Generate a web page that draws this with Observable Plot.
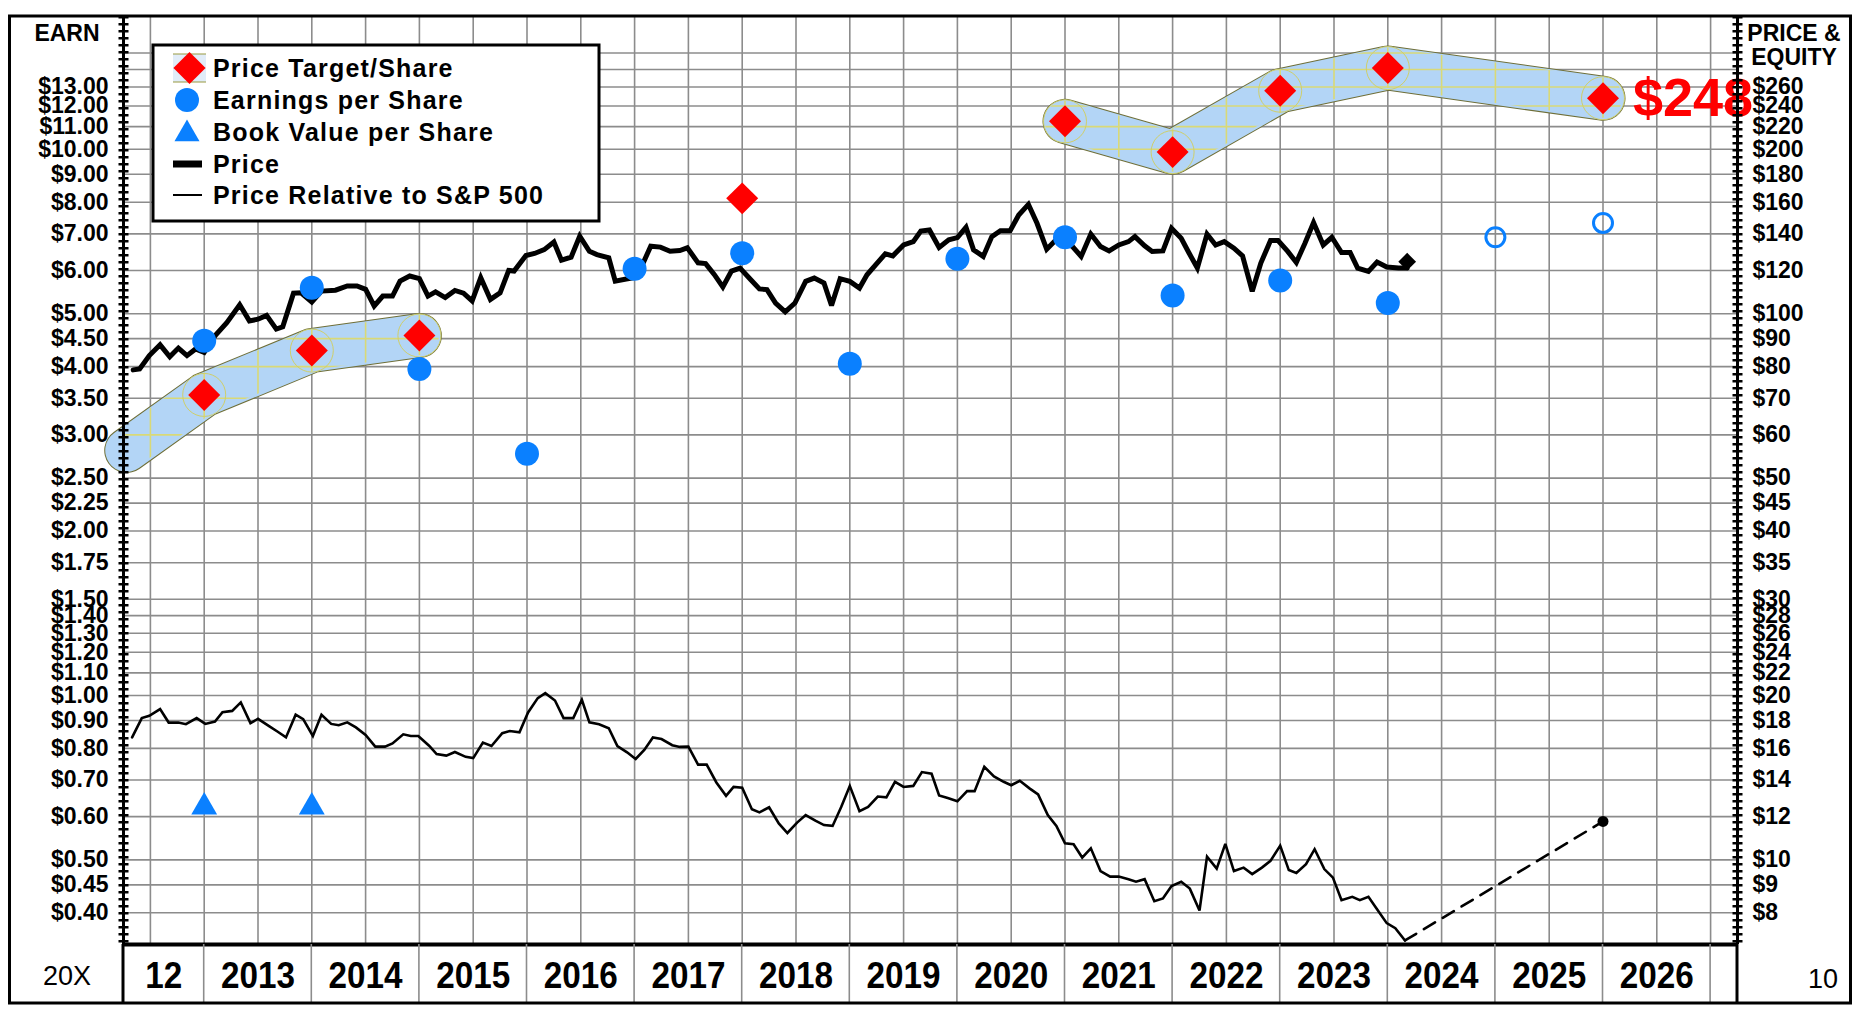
<!DOCTYPE html>
<html>
<head>
<meta charset="utf-8">
<script src="https://cdn.jsdelivr.net/npm/d3@7"></script>
<script src="https://cdn.jsdelivr.net/npm/@observablehq/plot@0.6"></script>
<style>
html, body { margin: 0; padding: 0; background: #fff; }
#chart { width: 1856px; height: 1012px; }
</style>
</head>
<body>
<div id="chart"></div>
<script>
// ---------------- DATA ----------------
// Price (monthly-ish), $ per share, read on the right-hand (PRICE) scale
const priceT = [2012.34,2012.40,2012.49,2012.59,2012.68,2012.76,2012.84,2012.92,2013.00,2013.10,2013.21,2013.33,2013.42,2013.50,2013.58,2013.67,2013.73,2013.83,2013.90,2014.00,2014.09,2014.22,2014.33,2014.42,2014.50,2014.58,2014.66,2014.75,2014.82,2014.91,2015.00,2015.08,2015.15,2015.24,2015.33,2015.41,2015.49,2015.57,2015.66,2015.75,2015.83,2015.88,2015.99,2016.07,2016.16,2016.25,2016.32,2016.41,2016.49,2016.58,2016.65,2016.76,2016.82,2016.91,2016.99,2017.05,2017.15,2017.24,2017.33,2017.42,2017.49,2017.59,2017.66,2017.74,2017.82,2017.90,2017.98,2018.08,2018.16,2018.23,2018.31,2018.40,2018.49,2018.59,2018.67,2018.76,2018.83,2018.91,2019.00,2019.09,2019.16,2019.24,2019.33,2019.40,2019.50,2019.59,2019.66,2019.74,2019.83,2019.92,2020.00,2020.08,2020.15,2020.24,2020.32,2020.40,2020.49,2020.57,2020.66,2020.74,2020.83,2020.91,2021.00,2021.07,2021.15,2021.24,2021.33,2021.41,2021.50,2021.59,2021.65,2021.74,2021.81,2021.91,2021.99,2022.08,2022.15,2022.23,2022.32,2022.40,2022.48,2022.57,2022.65,2022.74,2022.82,2022.91,2022.98,2023.07,2023.15,2023.23,2023.31,2023.40,2023.48,2023.57,2023.65,2023.72,2023.82,2023.90,2023.99,2024.10,2024.18];
const priceV = [78.9,79.2,83.8,87.7,83.4,86.5,83.8,86.2,84.9,91.1,96.3,103.8,97.0,97.7,99.3,93.7,94.6,109.0,109.2,105.0,110.0,110.4,112.4,112.4,110.8,103.3,107.7,107.7,114.7,117.2,115.9,107.7,109.6,107.0,110.3,109.0,105.5,116.4,106.2,109.2,120.0,119.7,127.8,128.9,131.0,135.3,125.3,126.9,138.6,130.1,128.3,126.6,114.7,115.6,116.4,120.2,132.9,132.4,130.1,130.5,132.0,123.9,123.5,118.0,111.9,119.7,121.2,115.4,111.0,110.7,104.6,100.8,104.6,114.6,116.2,113.8,103.5,115.9,114.6,111.4,117.8,122.9,128.7,127.6,133.6,135.5,141.7,142.3,132.2,136.5,137.8,143.9,130.9,127.3,138.4,141.9,141.9,151.6,158.5,146.4,131.2,136.1,134.6,132.7,127.3,139.9,132.7,130.3,133.6,135.5,138.4,133.1,130.0,130.3,143.3,137.4,129.4,121.2,139.9,133.6,135.5,131.8,127.6,109.9,123.8,136.1,136.1,130.0,124.1,134.6,146.8,133.6,138.0,129.4,129.4,121.2,119.5,124.3,121.7,121.2,121.2];
const lastPriceT = [2024.18];
const lastPriceV = [124.5];

// Price relative to S&P 500 (read on the left-hand EARN scale)
const relT = [2012.33,2012.42,2012.49,2012.59,2012.67,2012.76,2012.83,2012.93,2013.01,2013.10,2013.17,2013.26,2013.34,2013.43,2013.50,2013.61,2013.68,2013.76,2013.85,2013.92,2014.01,2014.09,2014.18,2014.25,2014.33,2014.41,2014.50,2014.59,2014.68,2014.75,2014.85,2014.92,2014.99,2015.09,2015.16,2015.25,2015.33,2015.43,2015.50,2015.59,2015.67,2015.77,2015.84,2015.93,2016.01,2016.10,2016.17,2016.26,2016.34,2016.43,2016.51,2016.58,2016.67,2016.76,2016.84,2016.93,2017.01,2017.09,2017.17,2017.25,2017.35,2017.42,2017.50,2017.59,2017.67,2017.76,2017.85,2017.92,2018.00,2018.09,2018.16,2018.25,2018.34,2018.42,2018.51,2018.59,2018.68,2018.76,2018.84,2018.92,2019.00,2019.09,2019.17,2019.26,2019.34,2019.42,2019.50,2019.59,2019.67,2019.76,2019.83,2019.91,2020.00,2020.09,2020.16,2020.25,2020.34,2020.43,2020.50,2020.58,2020.67,2020.75,2020.84,2020.92,2021.00,2021.08,2021.16,2021.24,2021.33,2021.42,2021.50,2021.59,2021.66,2021.74,2021.83,2021.91,2021.99,2022.08,2022.16,2022.25,2022.32,2022.41,2022.49,2022.57,2022.66,2022.74,2022.83,2022.91,2023.00,2023.08,2023.15,2023.24,2023.32,2023.41,2023.49,2023.57,2023.67,2023.74,2023.82,2023.90,2023.99,2024.07,2024.16];
const relV = [0.838,0.909,0.918,0.944,0.892,0.892,0.886,0.909,0.887,0.896,0.932,0.937,0.971,0.890,0.906,0.877,0.859,0.838,0.922,0.905,0.843,0.922,0.887,0.882,0.893,0.874,0.847,0.806,0.806,0.817,0.849,0.843,0.843,0.809,0.781,0.776,0.788,0.772,0.768,0.820,0.808,0.853,0.861,0.856,0.931,0.989,1.010,0.979,0.909,0.909,0.982,0.893,0.886,0.871,0.808,0.787,0.765,0.795,0.838,0.832,0.811,0.805,0.806,0.747,0.747,0.693,0.655,0.680,0.678,0.619,0.611,0.624,0.583,0.560,0.585,0.604,0.590,0.579,0.577,0.625,0.683,0.614,0.625,0.653,0.651,0.695,0.680,0.683,0.724,0.719,0.656,0.649,0.640,0.668,0.668,0.740,0.711,0.695,0.685,0.698,0.676,0.659,0.604,0.577,0.536,0.534,0.505,0.525,0.477,0.466,0.466,0.461,0.456,0.461,0.420,0.425,0.448,0.456,0.443,0.404,0.507,0.482,0.535,0.477,0.484,0.471,0.484,0.498,0.531,0.479,0.473,0.491,0.523,0.481,0.464,0.422,0.428,0.422,0.428,0.406,0.383,0.375,0.356];
const projT = [2024.16, 2026.0];
const projV = [0.356, 0.588];

// Earnings per share ($)
const epsYears = [2013,2014,2015,2016,2017,2018,2019,2020,2021,2022,2023,2024];
const epsValues = [4.46,5.58,3.96,2.77,6.04,6.45,4.05,6.30,6.90,5.40,5.75,5.23];
const epsEstYears = [2025, 2026];
const epsEstValues = [6.90, 7.33];

// Book value per share ($)
const bvYears = [2013, 2014];
const bvValues = [0.625, 0.625];

// Price target per share ($, price scale)
const targetYears = [2013, 2014, 2015, 2018, 2021, 2022, 2023, 2024, 2026];
const targetValues = [71, 85.6, 91.2, 162.6, 225, 197.6, 256, 281.6, 248];

// Target range bands ($, price scale)
const band1Years = [2012.28, 2013, 2014, 2015];
const band1Values = [56.2, 71, 85.6, 91.2];
const band2Years = [2021, 2022, 2023, 2024, 2026];
const band2Values = [225, 197.6, 256, 281.6, 248];

// Axis ticks
const earnTicks = [0.40,0.45,0.50,0.60,0.70,0.80,0.90,1.00,1.10,1.20,1.30,1.40,1.50,1.75,2.00,2.25,2.50,3.00,3.50,4.00,4.50,5.00,6.00,7.00,8.00,9.00,10,11,12,13];
const extraGrid = [14, 15];
const yearLabels = ["12","2013","2014","2015","2016","2017","2018","2019","2020","2021","2022","2023","2024","2025","2026"];
const ratio = 20; // "20X" price/earnings ratio between the two axes
const legendItems = ["Price Target/Share","Earnings per Share","Book Value per Share","Price","Price Relative to S&P 500"];

// ---------------- LAYOUT ----------------
const W = 1856, H = 1012;
const ML = 123, MR = 119, MT = 16, MB = 68;
const x0 = 2012.25, x1 = 2027.25;
const y0 = 0.35, y1 = 17.5;
const FONT = "'Liberation Sans', Arial, Helvetica, sans-serif";
const BLUE = "#0a80ff";
const GRID = "#8c8c8c";

const zip = (ts, vs, f = v => v) => ts.map((t, i) => ({t, v: f(vs[i])}));
const price = zip(priceT, priceV, v => v / ratio);
const rel = zip(relT, relV);
const proj = zip(projT, projV);
const eps = zip(epsYears, epsValues);
const epsEst = zip(epsEstYears, epsEstValues);
const bv = zip(bvYears, bvValues);
const targets = zip(targetYears, targetValues, v => v / ratio);
const band1 = zip(band1Years, band1Values, v => v / ratio);
const band2 = zip(band2Years, band2Values, v => v / ratio);
const lastPrice = zip(lastPriceT, lastPriceV, v => v / ratio);
const halfYears = d3.range(2012.5, 2027.01, 0.5);
const yearCols = yearLabels.map((lab, i) => ({lab, x: i === 0 ? (x0 + 2013) / 2 : 2012.5 + i}));
const bandPoints = band1.slice(1).concat(band2);

const bandOuter = {x: "t", y: "v", stroke: "#6f6f38", strokeWidth: 45, strokeLinecap: "round", strokeLinejoin: "round"};
const bandInner = {x: "t", y: "v", stroke: "#b3d5f6", strokeWidth: 43, strokeLinecap: "round", strokeLinejoin: "round", className: "band-inner"};

const plot = Plot.plot({
  width: W, height: H,
  marginLeft: ML, marginRight: MR, marginTop: MT, marginBottom: MB,
  x: {domain: [x0, x1], axis: null},
  y: {type: "log", domain: [y0, y1], axis: null},
  style: {fontFamily: FONT, background: "white", overflow: "visible"},
  marks: [
    Plot.ruleX(halfYears, {stroke: GRID, strokeWidth: 1.6, className: "gridx"}),
    Plot.ruleY(earnTicks.concat(extraGrid), {stroke: GRID, strokeWidth: 1.6, className: "gridy"}),
    Plot.line(band1, bandOuter),
    Plot.line(band2, bandOuter),
    Plot.line(band1, bandInner),
    Plot.line(band2, bandInner),
    Plot.dot(bandPoints, {x: "t", y: "v", r: 21.5, stroke: "#cfcf6a", strokeWidth: 1, fill: "none"}),
    Plot.line(rel, {x: "t", y: "v", stroke: "black", strokeWidth: 2.6, strokeLinejoin: "miter", strokeMiterlimit: 3}),
    Plot.line(proj, {x: "t", y: "v", stroke: "black", strokeWidth: 2.6, strokeDasharray: "13,9"}),
    Plot.dot(proj.slice(1), {x: "t", y: "v", r: 5.5, fill: "black"}),
    Plot.line(price, {x: "t", y: "v", stroke: "black", strokeWidth: 5, strokeLinejoin: "miter", strokeMiterlimit: 3}),
    Plot.dot(lastPrice, {x: "t", y: "v", symbol: "diamond2", r: 8, fill: "black"}),
    Plot.dot(eps, {x: "t", y: "v", r: 12, fill: BLUE}),
    Plot.dot(epsEst, {x: "t", y: "v", r: 9.5, fill: "none", stroke: BLUE, strokeWidth: 3}),
    Plot.dot(bv, {x: "t", y: "v", symbol: "triangle", r: 9.6, fill: BLUE}),
    Plot.dot(targets, {x: "t", y: "v", symbol: "diamond2", r: 14.4, fill: "#ff0000"}),
    Plot.text(targets.slice(-1), {x: "t", y: "v", text: d => "$" + Math.round(d.v * ratio), dx: 30, textAnchor: "start", fill: "#ff0000", fontSize: 54, fontWeight: "bold", fontFamily: FONT}),
    // axes
    Plot.ruleY([y0], {stroke: "black", strokeWidth: 4}),
    Plot.ruleX([x0, x1], {stroke: "black", strokeWidth: 3}),
    Plot.ruleX([x0, x1], {stroke: "black", strokeWidth: 10, strokeDasharray: "2.4,4.6"}),
    Plot.text(earnTicks, {y: d => d, frameAnchor: "left", dx: -15, textAnchor: "end", text: d => "$" + d.toFixed(2), fontSize: 23, fontWeight: "bold", fill: "black"}),
    Plot.text(earnTicks, {y: d => d, frameAnchor: "right", dx: 15, textAnchor: "start", text: d => "$" + Math.round(d * ratio), fontSize: 23, fontWeight: "bold", fill: "black"}),
    Plot.text(yearCols, {x: "x", y: () => y0, dy: 32, text: "lab", fontSize: 36, fontWeight: "bold", fontFamily: FONT, fill: "black", className: "years"})
  ]
});

document.getElementById("chart").appendChild(plot);

// ---------- frame, band grid tint, legend ----------
const svg = d3.select(plot);
const xs = plot.scale("x"), ys = plot.scale("y");
const xl = xs.apply(x0), xr = xs.apply(x1);
const yb = ys.apply(y0);
const yBottom = 1003, xFrameL = 9.5, xFrameR = 1850.5;

// condensed year labels
svg.selectAll(".years text").each(function () {
  const n = this.textContent.length;
  this.setAttribute("textLength", n * 18.5);
  this.setAttribute("lengthAdjust", "spacingAndGlyphs");
});

// yellow-green grid lines visible inside the blue band
const defs = svg.insert("defs", ":first-child");
const mask = defs.append("mask").attr("id", "bandmask").attr("maskUnits", "userSpaceOnUse")
  .attr("x", 0).attr("y", 0).attr("width", W).attr("height", H);
mask.append("rect").attr("width", W).attr("height", H).attr("fill", "black");
svg.selectAll(".band-inner path").each(function () {
  const c = this.cloneNode(true);
  c.setAttribute("stroke", "white"); c.setAttribute("stroke-width", "40");
  c.setAttribute("stroke-linecap", "round"); c.setAttribute("stroke-linejoin", "round");
  c.setAttribute("fill", "none");
  mask.node().appendChild(c);
});
const inners = svg.selectAll(".band-inner").nodes();
if (inners.length) {
  const yg = document.createElementNS("http://www.w3.org/2000/svg", "g");
  yg.setAttribute("mask", "url(#bandmask)");
  svg.selectAll(".gridx, .gridy").each(function () {
    const c = this.cloneNode(true);
    c.setAttribute("stroke", "#d9d977");
    c.removeAttribute("class");
    yg.appendChild(c);
  });
  const last = inners[inners.length - 1];
  last.parentNode.insertBefore(yg, last.nextSibling);
}

const frame = svg.append("g").attr("text-anchor", "start");
// label-row separators at year boundaries
d3.range(2013, 2028).forEach(yr => {
  frame.append("line").attr("x1", xs.apply(yr)).attr("x2", xs.apply(yr)).attr("y1", yb).attr("y2", yBottom)
    .attr("stroke", GRID).attr("stroke-width", 1.6);
});
frame.append("line").attr("x1", xl).attr("x2", xl).attr("y1", yb).attr("y2", yBottom).attr("stroke", "black").attr("stroke-width", 3);
frame.append("line").attr("x1", xr).attr("x2", xr).attr("y1", yb).attr("y2", yBottom).attr("stroke", "black").attr("stroke-width", 3);
frame.append("rect").attr("x", xFrameL).attr("y", MT).attr("width", xFrameR - xFrameL).attr("height", yBottom - MT)
  .attr("fill", "none").attr("stroke", "black").attr("stroke-width", 3);

const txt = (x, y, s, o = {}) => frame.append("text").attr("x", x).attr("y", y).text(s)
  .attr("font-family", o.family || FONT).attr("font-size", o.size || 23).attr("font-weight", o.weight || "bold")
  .attr("text-anchor", o.anchor || "middle").attr("fill", "black")
  .attr("letter-spacing", o.ls || 0);
txt(67, 41, "EARN");
txt(1794, 41, "PRICE &");
txt(1794, 65, "EQUITY");
txt(67, 985, "20X", {weight: "normal", size: 27});
txt(1823, 988, "10", {weight: "normal", size: 27});

// legend
const lg = svg.append("g").attr("text-anchor", "start");
lg.append("rect").attr("x", 153).attr("y", 45).attr("width", 446).attr("height", 176)
  .attr("fill", "white").attr("stroke", "black").attr("stroke-width", 3);
const rowsY = [68, 100, 132, 164, 195];
lg.append("rect").attr("x", 173).attr("y", 54).attr("width", 33).attr("height", 28).attr("fill", "#e1ecf8");
lg.append("line").attr("x1", 173).attr("x2", 206).attr("y1", 54).attr("y2", 54).attr("stroke", "#9a9a40").attr("stroke-width", 1.2);
lg.append("line").attr("x1", 173).attr("x2", 206).attr("y1", 82).attr("y2", 82).attr("stroke", "#9a9a40").attr("stroke-width", 1.2);
lg.append("path").attr("d", d3.symbol(d3.symbolDiamond2, Math.PI * 14.5 * 14.5)()).attr("transform", `translate(189.5,${rowsY[0]})`).attr("fill", "#ff0000");
lg.append("circle").attr("cx", 187).attr("cy", rowsY[1]).attr("r", 12).attr("fill", BLUE);
lg.append("path").attr("d", d3.symbol(d3.symbolTriangle, Math.PI * 9.3 * 9.3)()).attr("transform", `translate(187,${rowsY[2] + 2})`).attr("fill", BLUE);
lg.append("rect").attr("x", 173).attr("y", rowsY[3] - 3.5).attr("width", 29).attr("height", 7).attr("fill", "black");
lg.append("line").attr("x1", 173).attr("x2", 202).attr("y1", rowsY[4]).attr("y2", rowsY[4]).attr("stroke", "black").attr("stroke-width", 2);
legendItems.forEach((s, i) => {
  lg.append("text").attr("x", 213).attr("y", rowsY[i] + 9).text(s)
    .attr("text-anchor", "start")
    .attr("font-family", FONT).attr("font-size", 25).attr("font-weight", "bold").attr("letter-spacing", 1.2).attr("fill", "black");
});
</script>
</body>
</html>
